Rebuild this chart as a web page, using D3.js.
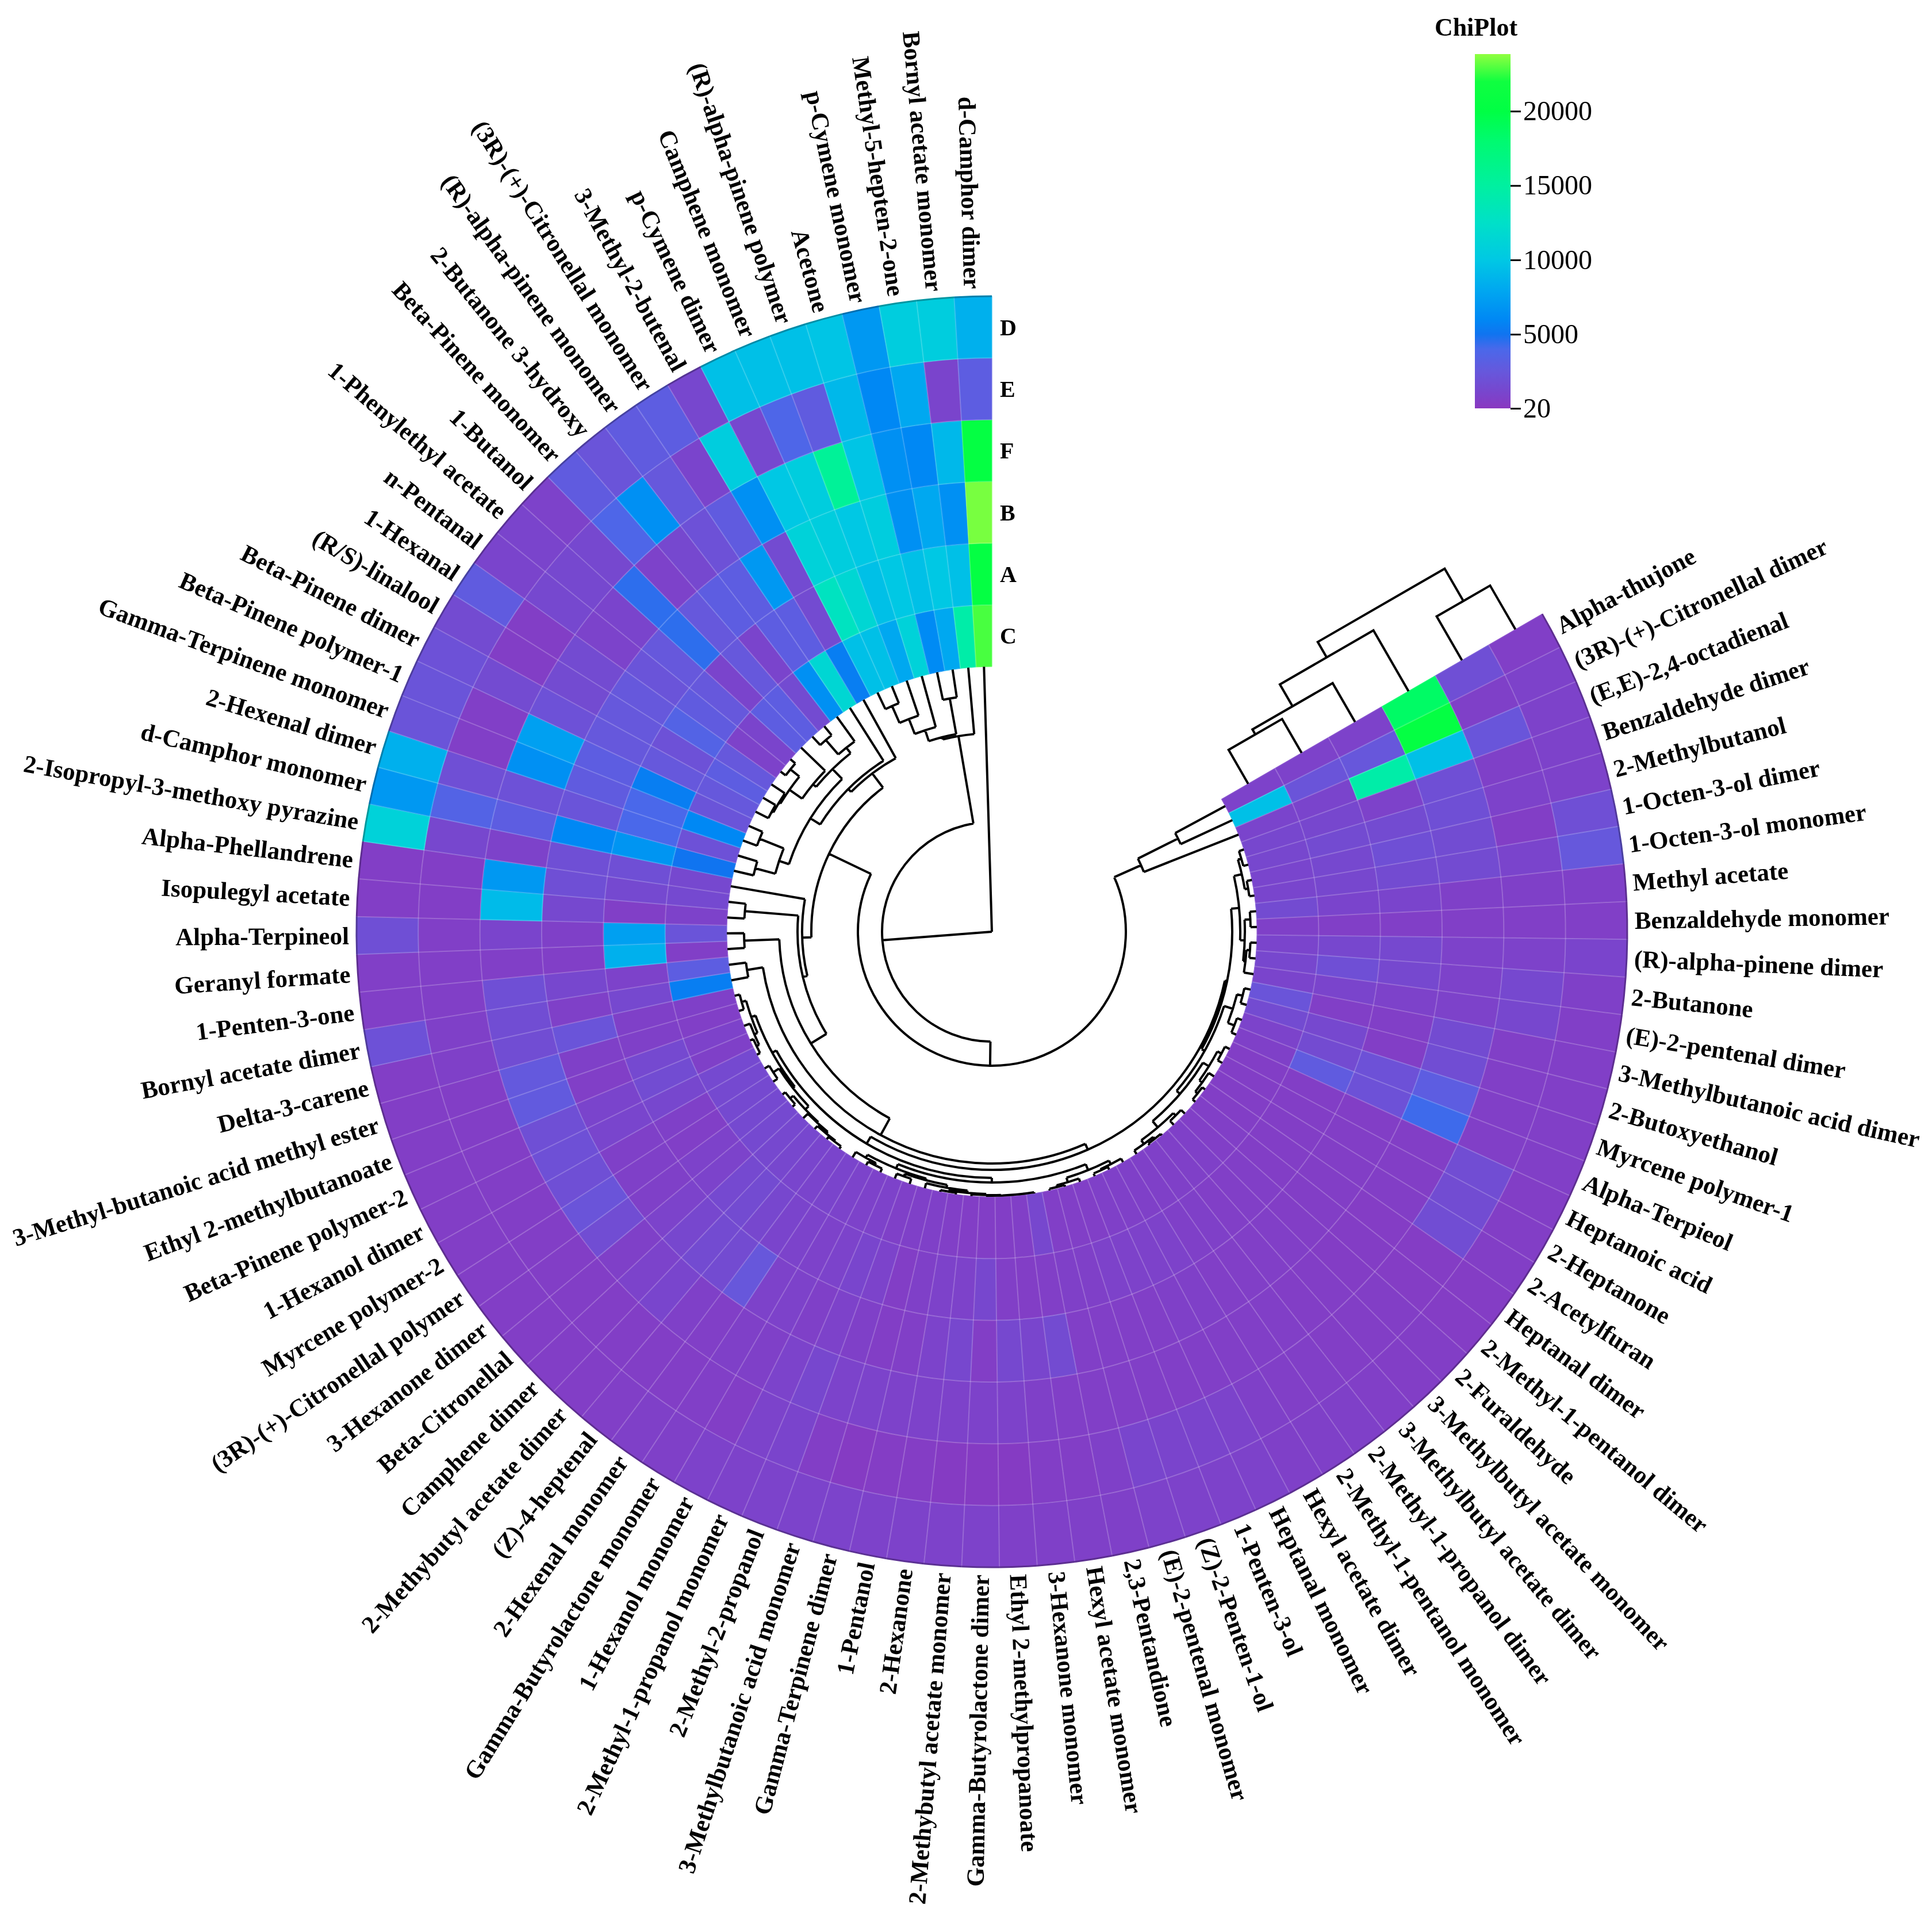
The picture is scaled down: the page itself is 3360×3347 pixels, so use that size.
<!DOCTYPE html>
<meta charset="utf-8">
<style>
body { margin: 0; background: #fff; }
svg { display: block; filter: blur(0.7px); }
text { font-family: "Liberation Serif", serif; fill: #000; }
.name { font-size: 43px; font-weight: bold; }
.row-name { font-size: 40px; font-weight: bold; }
.legend-title { font-size: 44px; font-weight: bold; }
.legend-axis text { font-size: 48px; font-family: "Liberation Serif", serif; }
</style>
<svg width="3360" height="3347"></svg>
<script src="https://d3js.org/d3.v7.min.js"></script>
<script>

// clockwise from the start edge of the ring, last one sits at 12 o'clock
var compounds = ["Alpha-thujone","(3R)-(+)-Citronellal dimer","(E,E)-2,4-octadienal","Benzaldehyde dimer","2-Methylbutanol","1-Octen-3-ol dimer","1-Octen-3-ol monomer","Methyl acetate","Benzaldehyde monomer","(R)-alpha-pinene dimer",
"2-Butanone","(E)-2-pentenal dimer","3-Methylbutanoic acid dimer","2-Butoxyethanol","Myrcene polymer-1","Alpha-Terpieol","Heptanoic acid","2-Heptanone","2-Acetylfuran","Heptanal dimer",
"2-Methyl-1-pentanol dimer","2-Furaldehyde","3-Methylbutyl acetate monomer","3-Methylbutyl acetate dimer","2-Methyl-1-propanol dimer","2-Methyl-1-pentanol monomer","Hexyl acetate dimer","Heptanal monomer","1-Penten-3-ol","(Z)-2-Penten-1-ol",
"(E)-2-pentenal monomer","2,3-Pentandione","Hexyl acetate monomer","3-Hexanone monomer","Ethyl 2-methylpropanoate","Gamma-Butyrolactone dimer","2-Methybutyl acetate monomer","2-Hexanone","1-Pentanol","Gamma-Terpinene dimer",
"3-Methylbutanoic acid monomer","2-Methyl-2-propanol","2-Methyl-1-propanol monomer","1-Hexanol monomer","Gamma-Butyrolactone monomer","2-Hexenal monomer","(Z)-4-heptenal","2-Methybutyl acetate dimer","Camphene dimer","Beta-Citronellal",
"3-Hexanone dimer","(3R)-(+)-Citronellal polymer","Myrcene polymer-2","1-Hexanol dimer","Beta-Pinene polymer-2","Ethyl 2-methylbutanoate","3-Methyl-butanoic acid methyl ester","Delta-3-carene","Bornyl acetate dimer","1-Penten-3-one",
"Geranyl formate","Alpha-Terpineol","Isopulegyl acetate","Alpha-Phellandrene","2-Isopropyl-3-methoxy pyrazine","d-Camphor monomer","2-Hexenal dimer","Gamma-Terpinene monomer","Beta-Pinene polymer-1","Beta-Pinene dimer",
"(R/S)-linalool","1-Hexanal","n-Pentanal","1-Phenylethyl acetate","1-Butanol","Beta-Pinene monomer","2-Butanone 3-hydroxy","(R)-alpha-pinene monomer","(3R)-(+)-Citronellal monomer","3-Methyl-2-butenal",
"p-Cymene dimer","Camphene monomer","(R)-alpha-pinene polymer","Acetone","p-Cymene monomer","Methyl-5-hepten-2-one","Bornyl acetate monomer","d-Camphor dimer"];

// inner ring first
var samples = ["C","A","B","F","E","D"];

var rowD = [600,800,800,800,800,1800,2500,700,600,1000,
700,600,600,600,600,600,500,500,500,400,
400,500,500,600,700,700,700,800,800,800,
800,700,700,700,700,800,800,800,800,900,
900,900,800,800,700,700,600,500,500,500,
500,500,500,500,500,500,500,500,2000,600,
600,1800,500,500,11000,7000,8500,2200,2200,2000,
1500,2800,1000,1000,800,2800,2200,2800,3000,1200,
9500,9500,9500,9800,7000,10500,10500,8500];

var rowE = [1800,700,2300,700,800,500,1000,700,600,800,
1300,1200,600,600,600,600,1700,1600,1700,400,
400,500,500,500,600,600,700,900,1000,1000,
1100,700,500,500,300,300,300,400,400,300,
500,1000,900,500,600,500,500,500,500,500,
500,500,500,500,500,500,500,700,700,600,
600,600,500,500,1200,3500,1800,600,600,1500,
500,500,1300,1300,1300,3800,6500,2500,1000,10500,
1300,3800,2800,9000,6000,8000,1000,3000];

var rowF = [18500,20500,9500,1800,1800,1600,1500,700,600,800,
800,800,1500,1700,3000,4200,500,500,500,400,
450,450,500,500,600,600,600,600,600,600,
600,600,600,700,800,800,800,800,800,900,
900,1200,900,700,700,600,700,1100,900,700,
1700,2200,1800,1900,1800,2700,2600,1700,1700,1800,
600,1000,9200,7000,800,3000,2000,6500,7500,2000,
1500,1500,900,1000,4500,800,1300,2000,2800,6500,
10000,10500,15500,9800,6500,6000,9000,20500];

var rowB = [800,2400,14500,800,1500,1800,1500,1000,600,1300,
1300,800,600,500,2000,2000,500,500,500,500,
500,500,600,600,600,600,700,700,600,600,
600,600,1500,1100,1300,500,1200,900,600,500,
700,800,700,800,800,2400,1500,1500,1200,900,
700,700,700,1100,1000,600,700,2200,700,1200,
600,700,1300,1800,1800,6000,2200,2800,3000,2500,
2500,2500,2200,2500,4500,2500,3000,3000,7000,1500,
11000,10500,10000,10500,6500,8000,6500,23500];

var rowA = [800,2200,1000,1200,1500,1300,1200,1000,600,1200,
1800,1000,600,1300,1500,2800,500,500,500,500,
500,600,600,600,700,700,800,800,800,800,
700,700,600,500,600,1200,800,800,700,500,
900,1100,900,800,900,1000,1200,1500,1400,900,
800,600,700,1200,1600,1400,700,700,1300,800,
8500,7500,600,1400,1800,6800,4000,4000,5500,2500,
2000,3500,2800,2500,1000,2500,1000,3000,3000,1500,
13000,11500,9500,10000,9500,10000,9500,20500];

var rowC = [800,9500,1000,1200,1200,1100,1100,1500,700,1000,
1200,1000,2200,1500,900,700,500,500,500,500,
600,600,700,700,700,700,700,700,700,600,
600,600,1200,600,500,500,500,600,700,700,
700,800,800,900,1000,1000,1100,1200,1300,1400,
1400,1400,1400,1400,700,800,600,700,5500,3000,
600,2200,800,1400,1300,5000,2000,6000,2200,2500,
3000,2500,800,1000,3000,3000,1500,6500,11500,5500,
9500,9500,8000,11000,6200,8000,14500,22800];

var rows = {C: rowC, A: rowA, B: rowB, F: rowF, E: rowE, D: rowD};

// colour ramp
var rampValues = [20,1000,2500,4000,5000,6000,8000,10000,12500,15000,18000,20000,22000,23840];
var rampColors = ["#8a38c0","#7a44cc","#6658dc","#4a68ea","#1074f0","#0088f4","#00a8f0","#00c8e4","#00e0c8","#00f0a0","#00fa70","#00ff44","#10ff40","#90ff40"];
var legendTicks = [20,5000,10000,15000,20000];

// [height, child, child], numbers are compound positions (1 based)
var clusterA = [345,[349,[369,[397,[429,81,82],83],84],[412,85,86]],87];
var clusterU = [390,[435,69,68],[426,67,66]];
var clusterW = [430,[450,74,73],[433,72,[436,71,70]]];
var clusterT = [396,[408,78,[441,77,76]],[403,75,clusterW]];
var clusterZ = [345,80,[352,79,[372,clusterT,clusterU]]];
var clusterL = [428,
  [436,[444,[452,58,57],[450,56,[455,55,54]]],[440,[452,53,52],[448,[455,51,50],[450,49,[454,48,[456,47,46]]]]]],
  [436,[444,[450,45,[454,44,43]],[447,[452,42,41],[452,40,[456,[458,39,38],[458,37,[459,36,[459,35,[459,34,33]]]]]]]],
       [447,[454,27,[456,28,29]],[455,30,[458,31,32]]]]];
var clusterR = [418,
  [432,[446,[452,4,5],[452,6,7]],[440,[450,8,9],[444,[450,10,11],12]]],
  [424,[440,[450,13,14],[452,15,16]],
    [432,[444,[452,17,18],[450,19,[455,20,21]]],[446,[452,22,23],[454,[458,24,25],26]]]]];
var clusterP = [403,[431,60,59],[414,clusterL,clusterR]];
var clusterN = [330,65,[338,[431,64,63],[370,[431,62,61],clusterP]]];
var columnTree = [0,[191,clusterA,[233,[314,clusterZ,clusterN],[284,[362,1,2],3]]],88];
var rowTree = [153,[122,[78,[68,"C","A"],"B"],"F"],[88,"E","D"]];

var svg = d3.select("svg"),
	cx = 1725,
	cy = 1620,
	innerR = 461,
	outerR = 1105;

var angle = d3.scaleBand()
	.domain(compounds)
	.range([Math.PI / 3, 2 * Math.PI]);

var radius = d3.scaleBand()
	.domain(samples)
	.range([innerR, outerR]);

var color = d3.scaleLinear()
	.domain(rampValues)
	.range(rampColors);

var treeRadius = d3.scaleLinear().domain([0, 461]).range([0, innerR]);
var rowHeight = d3.scaleLinear().domain([0, 153]).range([0, 153]);

var g = svg.append("g").attr("transform", "translate(" + cx + "," + cy + ")");

var cells = [];
samples.forEach(function(s) {
	rows[s].forEach(function(v, i) {
		cells.push({sample: s, compound: compounds[i], value: v});
	});
});

var cellArc = d3.arc()
	.innerRadius(function(d) { return radius(d.sample); })
	.outerRadius(function(d) { return radius(d.sample) + radius.bandwidth(); })
	.startAngle(function(d) { return angle(d.compound); })
	.endAngle(function(d) { return angle(d.compound) + angle.bandwidth(); });

g.append("g").selectAll("path")
	.data(cells)
	.enter().append("path")
	.attr("d", cellArc)
	.attr("fill", function(d) { return color(d.value); })
	.attr("stroke", function(d) { return color(d.value); })
	.attr("stroke-width", 1);

// faint grid on top of the cells
g.append("g").selectAll("path")
	.data(cells)
	.enter().append("path")
	.attr("d", cellArc)
	.attr("fill", "none")
	.attr("stroke", "#fff")
	.attr("stroke-opacity", 0.11)
	.attr("stroke-width", 2);

// darker rim on the outside edge
var rimArc = d3.arc()
	.innerRadius(outerR)
	.outerRadius(outerR)
	.startAngle(function(d) { return angle(d.compound); })
	.endAngle(function(d) { return angle(d.compound) + angle.bandwidth(); });

g.append("g").selectAll("path")
	.data(cells.filter(function(d) { return d.sample == "D"; }))
	.enter().append("path")
	.attr("d", rimArc)
	.attr("fill", "none")
	.attr("stroke", function(d) { return d3.color(color(d.value)).darker(0.9); })
	.attr("stroke-width", 3);

// column dendrogram, polar
function polar(r, a) {
	return [r * Math.sin(a), -r * Math.cos(a)];
}

var root = d3.hierarchy(columnTree, function(d) { return Array.isArray(d) ? d.slice(1) : null; });

root.eachAfter(function(n) {
	if (n.children) {
		n.a = d3.mean(n.children, function(c) { return c.a; });
		n.r = treeRadius(n.data[0]);
	} else {
		n.a = angle(compounds[n.data - 1]) + angle.bandwidth() / 2;
		n.r = innerR;
	}
});

var treePath = d3.path();
root.each(function(n) {
	if (!n.children) return;
	var a0 = d3.min(n.children, function(c) { return c.a; }),
		a1 = d3.max(n.children, function(c) { return c.a; });
	if (n.r > 0) {
		var s = polar(n.r, a0);
		treePath.moveTo(s[0], s[1]);
		treePath.arc(0, 0, n.r, a0 - Math.PI / 2, a1 - Math.PI / 2);
	}
	n.children.forEach(function(c) {
		var p = polar(n.r, c.a), q = polar(c.r, c.a);
		treePath.moveTo(p[0], p[1]);
		treePath.lineTo(q[0], q[1]);
	});
});

g.append("path")
	.attr("d", treePath.toString())
	.attr("fill", "none")
	.attr("stroke", "#000")
	.attr("stroke-width", 4)
	.attr("stroke-linejoin", "miter");

// row dendrogram, sits on the start edge of the ring
var rowRoot = d3.hierarchy(rowTree, function(d) { return Array.isArray(d) ? d.slice(1) : null; });

rowRoot.eachAfter(function(n) {
	if (n.children) {
		n.u = d3.mean(n.children, function(c) { return c.u; });
		n.v = rowHeight(n.data[0]);
	} else {
		n.u = radius(n.data) + radius.bandwidth() / 2;
		n.v = 0;
	}
});

var rowPath = d3.path();
rowRoot.each(function(n) {
	if (!n.children) return;
	rowPath.moveTo(n.children[0].u, -n.children[0].v);
	rowPath.lineTo(n.children[0].u, -n.v);
	rowPath.lineTo(n.children[1].u, -n.v);
	rowPath.lineTo(n.children[1].u, -n.children[1].v);
});

g.append("path")
	.attr("transform", "rotate(-30)")
	.attr("d", rowPath.toString())
	.attr("fill", "none")
	.attr("stroke", "#000")
	.attr("stroke-width", 4);

// compound names around the ring
g.append("g").selectAll("text")
	.data(compounds)
	.enter().append("text")
	.attr("class", "name")
	.attr("dy", "0.35em")
	.attr("text-anchor", function(d) {
		return angle(d) + angle.bandwidth() / 2 > Math.PI ? "end" : "start";
	})
	.attr("transform", function(d) {
		var deg = (angle(d) + angle.bandwidth() / 2) * 180 / Math.PI;
		if (deg > 180) return "rotate(" + (deg - 90) + ")translate(1118,0)rotate(180)";
		return "rotate(" + (deg - 90) + ")translate(1118,0)";
	})
	.text(function(d) { return d; });

// sample letters at 12 o'clock
g.append("g").selectAll("text")
	.data(samples)
	.enter().append("text")
	.attr("class", "row-name")
	.attr("x", 14)
	.attr("y", function(d) { return -(radius(d) + radius.bandwidth() / 2); })
	.attr("dy", "0.35em")
	.text(function(d) { return d; });

// legend
var legendY = d3.scaleLinear().domain([20, 23840]).range([710, 94]);

var gradient = svg.append("defs").append("linearGradient")
	.attr("id", "ramp")
	.attr("x1", 0).attr("y1", 1).attr("x2", 0).attr("y2", 0);

gradient.selectAll("stop")
	.data(rampValues)
	.enter().append("stop")
	.attr("offset", function(d) { return (d - 20) / (23840 - 20); })
	.attr("stop-color", function(d) { return color(d); });

svg.append("rect")
	.attr("x", 2565)
	.attr("y", legendY(23840))
	.attr("width", 62)
	.attr("height", legendY(20) - legendY(23840))
	.attr("fill", "url(#ramp)");

svg.append("text")
	.attr("class", "legend-title")
	.attr("x", 2567)
	.attr("y", 62)
	.attr("text-anchor", "middle")
	.text("ChiPlot");

var legendAxis = svg.append("g")
	.attr("class", "legend-axis")
	.attr("transform", "translate(2627,0)")
	.call(d3.axisRight(legendY).tickValues(legendTicks).tickFormat(d3.format("d")).tickSize(18).tickPadding(4));

legendAxis.select(".domain").remove();
legendAxis.selectAll("line").attr("stroke", "#000").attr("stroke-width", 3);

</script>
